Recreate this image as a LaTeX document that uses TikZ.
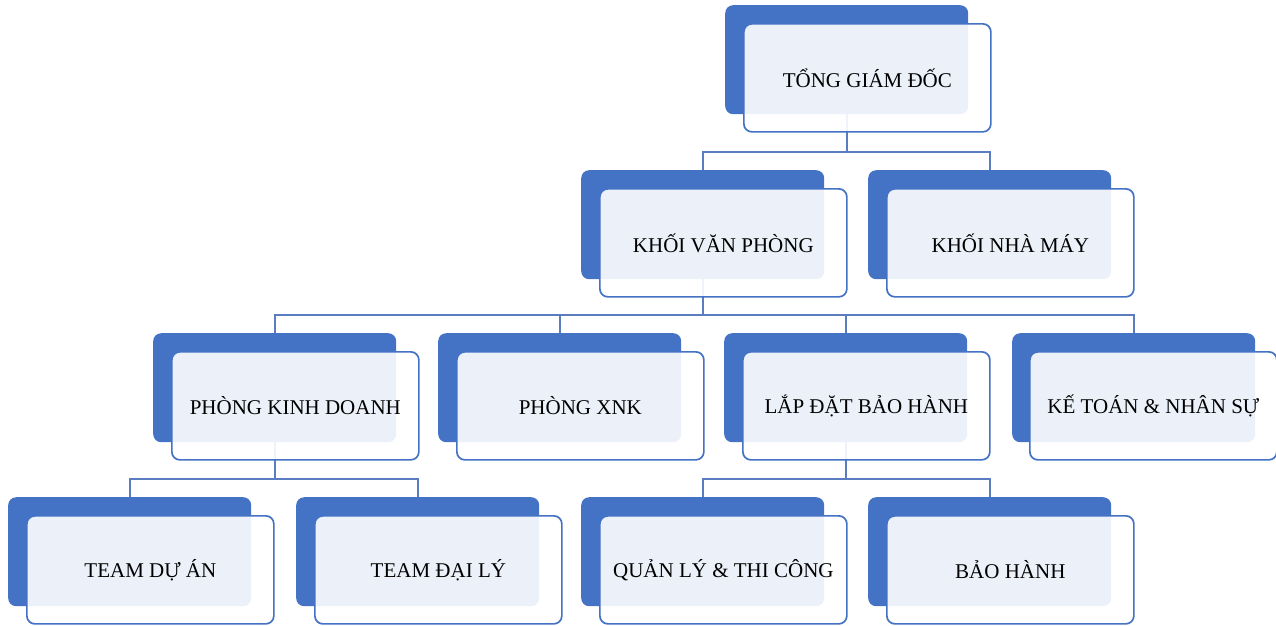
\documentclass[tikz,border=0pt]{standalone}
\usepackage{fontspec}
\setmainfont{Liberation Serif}
\usetikzlibrary{calc}
\definecolor{bblue}{HTML}{4472C4}
\definecolor{lblue}{HTML}{5A7DC2}
\tikzset{
  backbox/.style={fill=bblue, draw=none, rounded corners=8pt, minimum width=243pt, minimum height=109pt, anchor=north west, inner sep=0pt},
  frontbox/.style={fill=white, fill opacity=0.9, text opacity=1, draw=bblue, line width=1.7pt, rounded corners=8pt, minimum width=247pt, minimum height=108pt, anchor=north west, inner sep=0pt, font=\fontsize{21}{24}\selectfont, text=black},
  conn/.style={draw=lblue, line width=1.9pt}
}
\begin{document}
\begin{tikzpicture}[x=1pt,y=-1pt]
\useasboundingbox (0,0) rectangle (1276,625);
% back boxes
\node[backbox] (topB) at (725,5) {};
\node[backbox] (kvpB) at (581,170) {};
\node[backbox] (knmB) at (868,170) {};
\node[backbox] (pkdB) at (153,333) {};
\node[backbox] (xnkB) at (438,333) {};
\node[backbox] (ldbhB) at (724,333) {};
\node[backbox] (ktnsB) at (1012,333) {};
\node[backbox] (tdaB) at (8,497) {};
\node[backbox] (tdlB) at (296,497) {};
\node[backbox] (qltcB) at (581,497) {};
\node[backbox] (bhB) at (868,497) {};
% junctions
\coordinate (j1) at (846,152);
\coordinate (j2) at (703,315);
\coordinate (j3) at (275,479);
\coordinate (j4) at (846,479);
% connectors
\draw[conn] (topB.south) -- (topB.south |- j1) -| (kvpB.north);
\draw[conn] (topB.south |- j1) -| (knmB.north);
\draw[conn] (kvpB.south) -- (kvpB.south |- j2) -| (pkdB.north);
\draw[conn] (kvpB.south |- j2) -| (xnkB.north);
\draw[conn] (kvpB.south |- j2) -| (ldbhB.north);
\draw[conn] (kvpB.south |- j2) -| (ktnsB.north);
\draw[conn] (pkdB.south) -- (pkdB.south |- j3) -| (tdaB.north);
\draw[conn] (pkdB.south |- j3) -| (tdlB.north);
\draw[conn] (ldbhB.south) -- (ldbhB.south |- j4) -| (qltcB.north);
\draw[conn] (ldbhB.south |- j4) -| (bhB.north);
% front boxes
\node[frontbox] (top) at ($(topB.north west)+(18,18)$) {TỔNG GIÁM ĐỐC};
\node[frontbox] (kvp) at ($(kvpB.north west)+(18,18)$) {KHỐI VĂN PHÒNG};
\node[frontbox] (knm) at ($(knmB.north west)+(18,18)$) {KHỐI NHÀ MÁY};
\node[frontbox] (pkd) at ($(pkdB.north west)+(18,18)$) {PHÒNG KINH DOANH};
\node[frontbox] (xnk) at ($(xnkB.north west)+(18,18)$) {PHÒNG XNK};
\node[frontbox] (ldbh) at ($(ldbhB.north west)+(18,18)$) {LẮP ĐẶT BẢO HÀNH};
\node[frontbox] (ktns) at ($(ktnsB.north west)+(17,18)$) {KẾ TOÁN \& NHÂN SỰ};
\node[frontbox] (tda) at ($(tdaB.north west)+(18,18)$) {TEAM DỰ ÁN};
\node[frontbox] (tdl) at ($(tdlB.north west)+(18,18)$) {TEAM ĐẠI LÝ};
\node[frontbox] (qltc) at ($(qltcB.north west)+(18,18)$) {QUẢN LÝ \& THI CÔNG};
\node[frontbox] (bh) at ($(bhB.north west)+(18,18)$) {BẢO HÀNH};
\end{tikzpicture}
\end{document}
